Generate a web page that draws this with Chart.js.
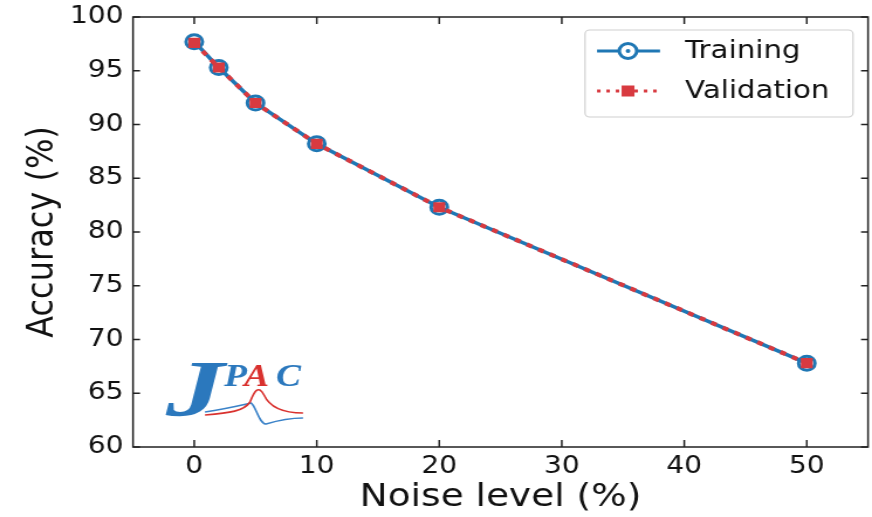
<!DOCTYPE html>
<html>
<head>
<meta charset="utf-8">
<script src="https://cdn.jsdelivr.net/npm/chart.js@4.4.1/dist/chart.umd.min.js"></script>
<style>
html,body{margin:0;padding:0;background:#fff;overflow:hidden;}
</style>
</head>
<body>
<canvas id="c" width="745" height="517" style="display:block;width:872px;height:517px;"></canvas>
<script>
// ---- data ----
const noiseLevels = [0, 2, 5, 10, 20, 50];
const trainingAcc = [97.7, 95.3, 92.0, 88.2, 82.3, 67.8];
const validationAcc = [97.6, 95.3, 92.0, 88.2, 82.3, 67.8];
const xTickValues = [0, 10, 20, 30, 40, 50];
const yTickValues = [60, 65, 70, 75, 80, 85, 90, 95, 100];
const seriesNames = ['Training', 'Validation'];

const BLUE = '#1f77b4';
const RED = '#d83a40';
const FONT = "'DejaVu Sans', sans-serif";
const SX = 745 / 872; // horizontal compression of the internal canvas

const framePlugin = {
  id: 'frame',
  beforeDatasetsDraw(chart) {
    const ctx = chart.ctx;
    // JPAC logo
    ctx.save();
    const X = v => v * SX;
    ctx.textBaseline = 'alphabetic';
    ctx.font = "bold italic 80px 'Liberation Serif', serif";
    ctx.fillStyle = '#2b78bd';
    ctx.save();
    ctx.translate(X(166), 416);
    ctx.scale(1.25, 1);
    ctx.fillText('J', 0, 0);
    ctx.restore();
    ctx.font = "bold italic 32px 'Liberation Serif', serif";
    ctx.fillStyle = '#2b78bd'; ctx.fillText('P', X(224), 386);
    ctx.fillStyle = '#d9312e'; ctx.fillText('A', X(244), 386);
    ctx.fillStyle = '#2b78bd'; ctx.fillText('C', X(276), 386);
    ctx.lineWidth = 1.6;
    ctx.strokeStyle = '#3a82c8';
    ctx.beginPath();
    ctx.moveTo(X(205), 412);
    ctx.bezierCurveTo(X(225), 409, X(242), 405, X(251), 403);
    ctx.bezierCurveTo(X(256), 406, X(259), 424, X(266), 424);
    ctx.bezierCurveTo(X(276), 421, X(290), 418, X(303), 418);
    ctx.stroke();
    ctx.strokeStyle = '#d9312e';
    ctx.beginPath();
    ctx.moveTo(X(205), 415);
    ctx.bezierCurveTo(X(230), 413, X(244), 411, X(250), 402);
    ctx.bezierCurveTo(X(254), 392, X(258), 384, X(264), 395);
    ctx.bezierCurveTo(X(270), 408, X(285), 413, X(303), 413);
    ctx.stroke();
    ctx.restore();
  },
  afterDatasetsDraw(chart) {
    const ctx = chart.ctx;
    const a = chart.chartArea;
    const xs = chart.scales.x, ys = chart.scales.y;
    ctx.save();
    ctx.strokeStyle = '#222';
    ctx.lineWidth = 1.5;
    ctx.strokeRect(a.left, a.top, a.right - a.left, a.bottom - a.top);
    ctx.beginPath();
    const tl = 7;
    xTickValues.forEach(v => {
      const px = xs.getPixelForValue(v);
      ctx.moveTo(px, a.bottom); ctx.lineTo(px, a.bottom - tl);
      ctx.moveTo(px, a.top); ctx.lineTo(px, a.top + tl);
    });
    yTickValues.forEach(v => {
      const py = ys.getPixelForValue(v);
      ctx.moveTo(a.left, py); ctx.lineTo(a.left + tl * SX, py);
      ctx.moveTo(a.right, py); ctx.lineTo(a.right - tl * SX, py);
    });
    ctx.stroke();

    // legend
    const bx = 585 * SX, by = 30, bw = (853 - 585) * SX, bh = 87, r = 4;
    ctx.fillStyle = 'rgba(255,255,255,0.85)';
    ctx.strokeStyle = '#d0d0d0';
    ctx.lineWidth = 1.2;
    ctx.beginPath();
    ctx.roundRect(bx, by, bw, bh, r);
    ctx.fill(); ctx.stroke();

    const lx0 = 597 * SX, lx1 = 660 * SX, mx = 628 * SX;
    const row1 = 51, row2 = 91;
    // training sample
    ctx.strokeStyle = BLUE; ctx.lineWidth = 3;
    ctx.beginPath(); ctx.moveTo(lx0, row1); ctx.lineTo(lx1, row1); ctx.stroke();
    ctx.fillStyle = '#fff';
    ctx.beginPath(); ctx.arc(mx, row1, 7.5, 0, Math.PI * 2); ctx.fill(); ctx.stroke();
    ctx.fillStyle = BLUE;
    ctx.beginPath(); ctx.arc(mx, row1, 2, 0, Math.PI * 2); ctx.fill();
    // validation sample
    ctx.strokeStyle = RED; ctx.lineWidth = 3;
    ctx.setLineDash([3, 5]);
    ctx.beginPath(); ctx.moveTo(lx0, row2); ctx.lineTo(lx1, row2); ctx.stroke();
    ctx.setLineDash([]);
    ctx.fillStyle = RED;
    ctx.fillRect(mx - 5.5, row2 - 5.5, 11, 11);

    ctx.fillStyle = '#111';
    ctx.font = '25px ' + FONT;
    ctx.textBaseline = 'middle';
    ctx.textAlign = 'left';
    ctx.fillText(seriesNames[0], 685 * SX, row1);
    ctx.fillText(seriesNames[1], 685 * SX, row2);
    ctx.restore();
  }
};

new Chart(document.getElementById('c'), {
  type: 'scatter',
  data: {
    datasets: [
      {
        label: seriesNames[0],
        data: noiseLevels.map((x, i) => ({x: x, y: trainingAcc[i]})),
        showLine: true,
        borderColor: BLUE,
        borderWidth: 3.5,
        pointStyle: 'circle',
        pointRadius: 7,
        pointBorderWidth: 3,
        pointBorderColor: BLUE,
        pointBackgroundColor: 'rgba(255,255,255,0)',
        order: 2
      },
      {
        label: seriesNames[1],
        data: noiseLevels.map((x, i) => ({x: x, y: validationAcc[i]})),
        showLine: true,
        borderColor: RED,
        borderWidth: 4.2,
        borderDash: [5, 6],
        pointStyle: 'rect',
        pointRadius: 7.2,
        pointBorderWidth: 0,
        pointBackgroundColor: RED,
        pointBorderColor: RED,
        order: 1
      }
    ]
  },
  options: {
    responsive: false,
    devicePixelRatio: 1,
    animation: false,
    layout: {autoPadding: false, padding: {left: 0, right: 3.4, top: 17, bottom: 0}},
    plugins: {legend: {display: false}, tooltip: {enabled: false}},
    scales: {
      x: {
        type: 'linear',
        min: -5, max: 55,
        afterBuildTicks: s => { s.ticks = xTickValues.map(v => ({value: v})); },
        afterFit: s => { s.height = 70; s.paddingLeft = 0; s.paddingRight = 0; },
        grid: {display: false, drawTicks: false},
        border: {display: false},
        ticks: {font: {family: FONT, size: 24}, color: '#111', padding: 5, maxRotation: 0, autoSkip: false},
        title: {display: true, text: 'Noise level (%)', font: {family: FONT, size: 32}, color: '#111', padding: {top: 0, bottom: 0}}
      },
      y: {
        type: 'linear',
        min: 60, max: 100,
        afterBuildTicks: s => { s.ticks = yTickValues.map(v => ({value: v})); },
        afterFit: s => { s.width = 133 * SX; s.paddingTop = 0; s.paddingBottom = 0; },
        grid: {display: false, drawTicks: false},
        border: {display: false},
        ticks: {font: {family: FONT, size: 24}, color: '#111', padding: 8, autoSkip: false},
        title: {display: true, text: 'Accuracy (%)', font: {family: FONT, size: 32}, color: '#111', padding: {top: 17, bottom: 0}}
      }
    }
  },
  plugins: [framePlugin]
});
</script>
</body>
</html>
